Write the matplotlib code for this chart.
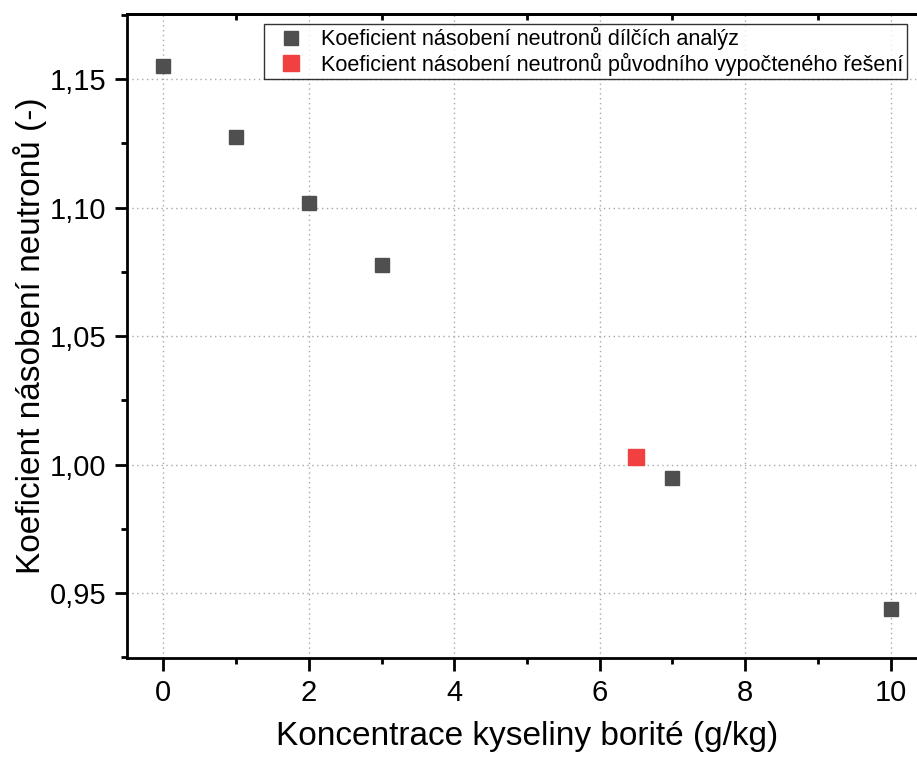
import matplotlib
matplotlib.use("Agg")
import matplotlib.pyplot as plt
from matplotlib.ticker import FuncFormatter, MultipleLocator

plt.rcParams["font.family"] = ["Liberation Sans", "DejaVu Sans"]

# Boric acid concentration (g/kg) vs neutron multiplication factor
conc_partial = [0, 1, 2, 3, 7, 10]
k_partial = [1.1551, 1.1274, 1.1017, 1.0776, 0.9947, 0.9438]

conc_original = [6.5]
k_original = [1.0029]

GRAY = "#4f4f4f"
RED = "#f04040"

fig = plt.figure(figsize=(9.17, 7.58), dpi=100)
ax = fig.add_axes([0.1385, 0.1319, 0.8724, 0.8496])

ax.plot(conc_partial, k_partial, "s", color=GRAY, markersize=10, mec=GRAY,
        label="Koeficient násobení neutronů dílčích analýz", zorder=3)
ax.plot(conc_original, k_original, "s", color=RED, markersize=11.5, mec=RED,
        label="Koeficient násobení neutronů původního vypočteného řešení", zorder=3)

ax.set_xlim(-0.5, 10.5)
ax.set_ylim(0.9247, 1.1753)

ax.xaxis.set_major_locator(MultipleLocator(2))
ax.xaxis.set_minor_locator(MultipleLocator(1))
ax.yaxis.set_major_locator(MultipleLocator(0.05))
ax.yaxis.set_minor_locator(MultipleLocator(0.025))
ax.yaxis.set_major_formatter(FuncFormatter(lambda v, p: f"{v:.2f}".replace(".", ",")))

ax.grid(True, which="major", linestyle=(0, (1, 2.5)), color="#a8a8a8", linewidth=1)

for side in ("left", "bottom", "top", "right"):
    ax.spines[side].set_linewidth(2)

ax.tick_params(which="major", direction="out", length=9, width=2,
               labelsize=21, pad=6, top=False, right=False)
ax.tick_params(which="minor", direction="out", length=4.5, width=2,
               top=False, right=False)

# top axis: inward minor ticks only
top = ax.secondary_xaxis("top")
top.set_xticks([])
top.set_xticks([1, 3, 5, 7, 9], minor=True)
top.tick_params(which="minor", direction="in", length=4.5, width=2)
top.spines["top"].set_linewidth(2)

ax.set_xlabel("Koncentrace kyseliny borité (g/kg)", fontsize=24, labelpad=10)
ax.set_ylabel("Koeficient násobení neutronů (-)", fontsize=24, labelpad=2)

leg = ax.legend(loc="upper left", bbox_to_anchor=(0.171, 0.9845),
                borderaxespad=0, fontsize=15.6, frameon=True, fancybox=False,
                edgecolor="black", handletextpad=0.3, labelspacing=0.1,
                borderpad=0.15, handlelength=2.2)
leg.get_frame().set_linewidth(1)

fig.savefig("out.png", dpi=100)
